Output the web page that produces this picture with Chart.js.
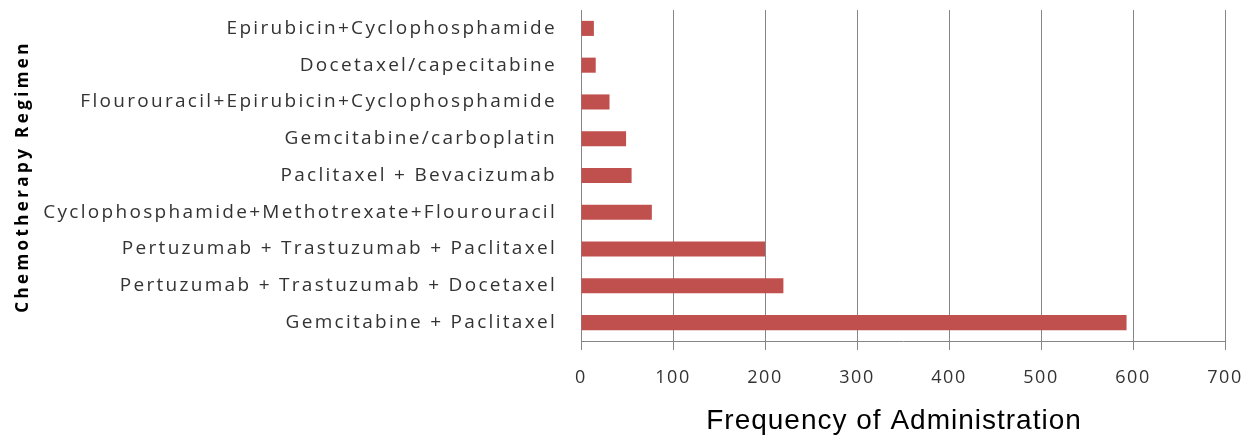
<!DOCTYPE html>
<html>
<head>
<meta charset="utf-8">
<script src="https://cdn.jsdelivr.net/npm/chart.js@4/dist/chart.umd.min.js"></script>
<style>
  html, body { margin:0; padding:0; background:#fff; }
  #wrap { width:1247px; height:436px; }
</style>
</head>
<body>
<div id="wrap"><canvas id="regimenChart" width="1247" height="436"></canvas></div>
<script>
  // data, top to bottom
  const regimens = [
    'Epirubicin+Cyclophosphamide',
    'Docetaxel/capecitabine',
    'Flourouracil+Epirubicin+Cyclophosphamide',
    'Gemcitabine/carboplatin',
    'Paclitaxel + Bevacizumab',
    'Cyclophosphamide+Methotrexate+Flourouracil',
    'Pertuzumab + Trastuzumab + Paclitaxel',
    'Pertuzumab + Trastuzumab + Docetaxel',
    'Gemcitabine + Paclitaxel'
  ];
  const frequency = [14, 16, 31, 49, 55, 77, 200, 220, 593];
  const xTicks = [0, 100, 200, 300, 400, 500, 600, 700];

  const gridGrey = '#868686';
  const textGrey = '#333333';

  // wrap a scale draw step so its text gets the wide Calibri-like spacing
  function spaced(scale, method, spacing, dx, dy) {
    if (scale['_w_' + method]) return;
    const orig = scale[method];
    scale['_w_' + method] = true;
    scale[method] = function () {
      const ctx = this.ctx;
      ctx.save();
      ctx.letterSpacing = spacing + 'px';
      ctx.translate(dx || 0, dy || 0);
      orig.apply(this, arguments);
      ctx.restore();
    };
  }

  new Chart(document.getElementById('regimenChart'), {
    type: 'bar',
    data: {
      labels: regimens,
      datasets: [{
        label: 'Frequency of Administration',
        data: frequency,
        backgroundColor: '#C0504D',
        borderWidth: 0,
        barPercentage: 0.41,
        categoryPercentage: 1
      }]
    },
    options: {
      indexAxis: 'y',
      responsive: false,
      animation: false,
      layout: { padding: { top: 10, right: 0, left: 0, bottom: 0 } },
      plugins: { legend: { display:false }, tooltip: { enabled:false } },
      scales: {
        x: {
          min: xTicks[0],
          max: xTicks[xTicks.length - 1],
          afterBuildTicks: s => { s.ticks = xTicks.map(v => ({ value: v })); },
          afterFit: s => {
            s.height = 95;
            s.paddingRight = 22;
            spaced(s, 'drawLabels', 1.5, 0, 0);
            spaced(s, 'drawTitle', 1, -9, 2);
          },
          grid: { color: gridGrey, lineWidth: 1, tickLength: 9, drawTicks: true },
          border: { display: true, color: gridGrey },
          ticks: { color: textGrey, padding: 17, font: { family: 'Open Sans', size: 18 } },
          title: {
            display: true,
            text: 'Frequency of Administration',
            color: '#000',
            font: { family: 'Liberation Sans', size: 28 },
            padding: { top: 0, bottom: 0 }
          }
        },
        y: {
          afterFit: s => {
            s.width = 581;
            s.paddingTop = 0;
            s.paddingBottom = 0;
            spaced(s, 'drawLabels', 2.3, 0, 0);
            spaced(s, 'drawTitle', 3.4, 3, 1);
          },
          grid: { display: false },
          border: { display: true, color: gridGrey },
          ticks: { color: textGrey, padding: 16, font: { family: 'Open Sans', size: 19 } },
          title: {
            display: true,
            text: 'Chemotherapy Regimen',
            color: '#000',
            font: { family: 'Open Sans', size: 17, weight: 'bold' },
            padding: { top: 10, bottom: 0 }
          }
        }
      }
    }
  });
</script>
</body>
</html>
